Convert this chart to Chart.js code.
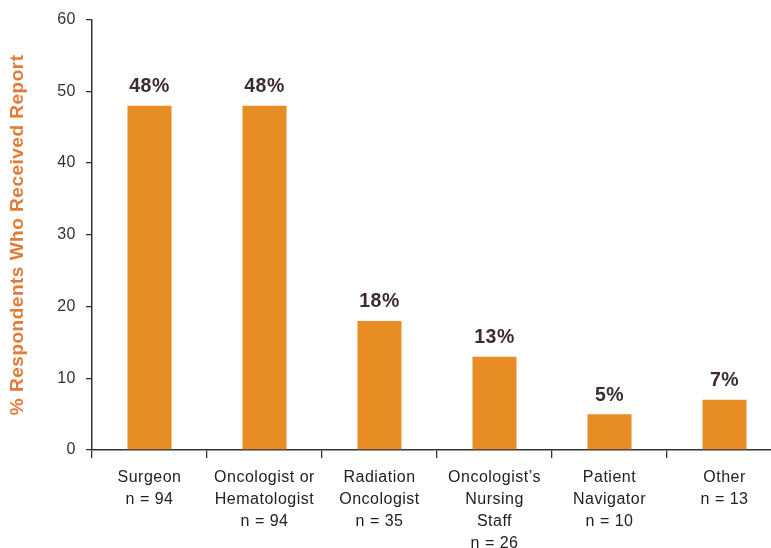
<!DOCTYPE html>
<html>
<head>
<meta charset="utf-8">
<script src="https://cdn.jsdelivr.net/npm/chart.js@4.4.0/dist/chart.umd.min.js"></script>
<style>
  html, body { margin: 0; padding: 0; background: #fff; overflow: hidden; }
  #wrap { position: absolute; left: 0; top: 0; width: 771px; height: 548px; overflow: hidden; }
  #myChart { position: absolute; left: 0; top: 0; }
</style>
</head>
<body>
<div id="wrap"><canvas id="myChart" width="792" height="560"></canvas></div>
<script>
// DATA
const categories = [
  ['Surgeon', 'n = 94'],
  ['Oncologist or', 'Hematologist', 'n = 94'],
  ['Radiation', 'Oncologist', 'n = 35'],
  ['Oncologist\u2019s', 'Nursing', 'Staff', 'n = 26'],
  ['Patient', 'Navigator', 'n = 10'],
  ['Other', 'n = 13']
];
const percents = [48, 48, 18, 13, 5, 7];
const yTicks = [0, 10, 20, 30, 40, 50, 60];

const FONT = '"Liberation Sans", Arial, Helvetica, sans-serif';
const SPACING = '0.5px';

// slightly wider tracking like the original artwork
const tracking = {
  id: 'tracking',
  beforeUpdate(chart) { chart.ctx.letterSpacing = SPACING; },
  beforeLayout(chart) { chart.ctx.letterSpacing = SPACING; },
  beforeDraw(chart) { chart.ctx.letterSpacing = SPACING; }
};

// value labels above bars
const barLabels = {
  id: 'barLabels',
  afterDatasetsDraw(chart) {
    const ctx = chart.ctx;
    const meta = chart.getDatasetMeta(0);
    ctx.save();
    ctx.font = 'bold 19.5px ' + FONT;
    ctx.fillStyle = '#3d2a33';
    ctx.textAlign = 'center';
    ctx.textBaseline = 'alphabetic';
    meta.data.forEach((bar, i) => {
      ctx.fillText(percents[i] + '%', bar.x, bar.y - 13.5);
    });
    ctx.restore();
  }
};

const myChart = new Chart(document.getElementById('myChart'), {
  type: 'bar',
  data: {
    labels: categories,
    datasets: [{
      data: percents,
      backgroundColor: '#e88d26',
      borderWidth: 0,
      categoryPercentage: 1,
      barPercentage: 0.383
    }]
  },
  options: {
    responsive: false,
    animation: false,
    layout: { padding: { top: 18, right: 10, left: 0, bottom: 0 } },
    plugins: {
      legend: { display: false },
      tooltip: { enabled: false }
    },
    scales: {
      x: {
        offset: true,
        grid: {
          offset: true,
          drawOnChartArea: false,
          drawTicks: true,
          tickLength: 8,
          color: '#333',
          lineWidth: 1.3
        },
        border: { color: '#333', width: 1.5 },
        ticks: {
          color: '#222',
          padding: 9,
          maxRotation: 0,
          autoSkip: false,
          font: { family: FONT, size: 16, lineHeight: 1.36 }
        },
        afterFit(scale) { scale.height = 110; }
      },
      y: {
        min: 0,
        max: 60,
        afterBuildTicks(scale) { scale.ticks = yTicks.map(v => ({ value: v })); },
        grid: {
          drawOnChartArea: false,
          drawTicks: true,
          tickLength: 6,
          color: '#333',
          lineWidth: 1.3
        },
        border: { color: '#333', width: 1.5 },
        ticks: {
          color: '#333',
          padding: 10,
          font: { family: FONT, size: 16 }
        },
        title: {
          display: true,
          text: '% Respondents Who Received Report',
          color: '#e07b39',
          padding: { top: 6, bottom: 0 },
          font: { family: FONT, size: 19, weight: 'bold' }
        },
        afterFit(scale) { scale.width = 92; }
      }
    }
  },
  plugins: [tracking, barLabels]
});
</script>
</body>
</html>
